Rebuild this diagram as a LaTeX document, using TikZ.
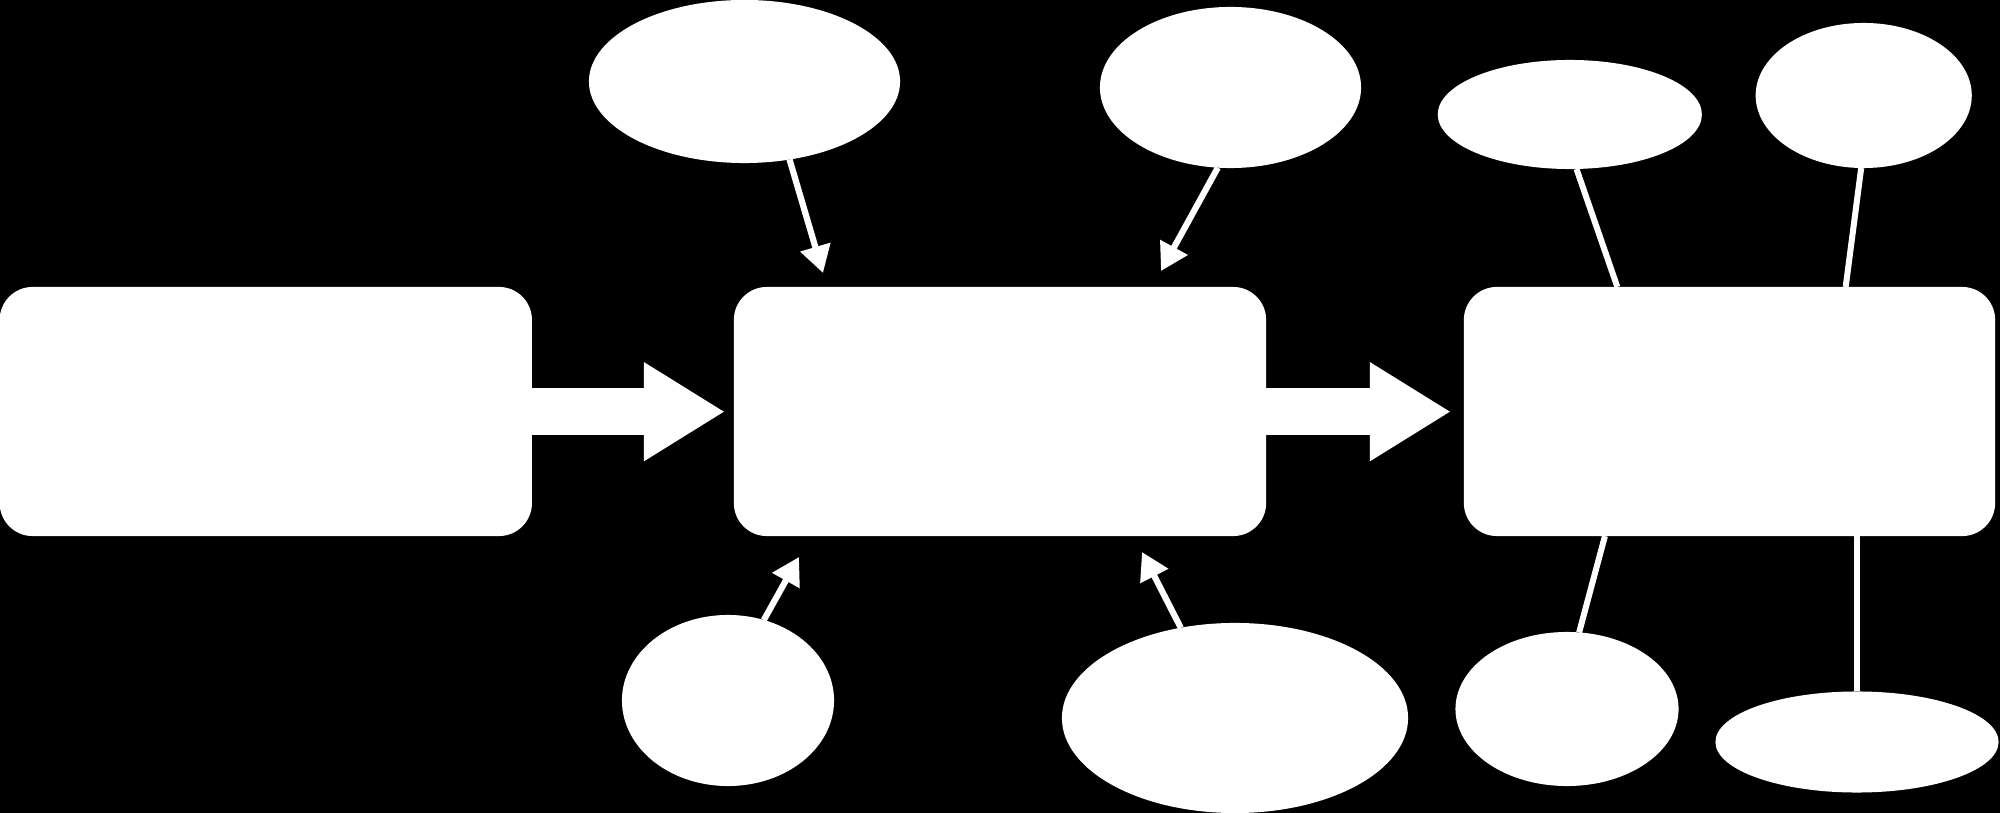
\documentclass[tikz,border=0pt]{standalone}
\usetikzlibrary{shapes.geometric,arrows.meta}
\begin{document}
\begin{tikzpicture}[x=0.01cm,y=-0.01cm,
  boxnode/.style={rectangle,rounded corners=0.33cm,fill=white,draw=none,inner sep=0pt,outer sep=0pt,minimum height=2.49cm},
  ellnode/.style={ellipse,fill=white,draw=none,inner sep=0pt,outer sep=0pt},
  bigarrow/.style={draw=white,line width=0.475cm,-{Triangle[width=0.93cm,length=0.81cm]}},
  smallarrow/.style={draw=white,line width=0.062cm,-{Triangle[width=0.3cm,length=0.27cm]}},
  plainline/.style={draw=white,line width=0.06cm}]
\useasboundingbox (0,0) rectangle (2000,813);
\fill[black] (0,0) rectangle (2000,813);
\node[boxnode,minimum width=5.32cm] (b1) at (265.8,411.5) {};
\node[boxnode,minimum width=5.32cm] (b2) at (1000,411.5) {};
\node[ellnode,minimum width=3.11cm,minimum height=1.63cm] (e1) at (744.5,81.5) {};
\node[ellnode,minimum width=2.61cm,minimum height=1.61cm] (e2) at (1230.5,87.5) {};
\node[ellnode,minimum width=2.64cm,minimum height=1.09cm] (e3) at (1569.8,114.5) {};
\node[ellnode,minimum width=2.16cm,minimum height=1.45cm] (e4) at (1863.7,95.5) {};
\node[ellnode,minimum width=2.12cm,minimum height=1.71cm] (e5) at (728,700.5) {};
\node[ellnode,minimum width=3.46cm,minimum height=1.90cm] (e6) at (1235,718) {};
\node[ellnode,minimum width=2.23cm,minimum height=1.54cm] (e7) at (1567,709) {};
\node[ellnode,minimum width=2.83cm,minimum height=1.01cm] (e8) at (1857,742) {};
\coordinate (t1) at (823,273);
\coordinate (t2) at (1161,271);
\coordinate (t3) at (799,557);
\coordinate (t4) at (1142,552);
\coordinate (a1) at (725,411.7);
\coordinate (a2) at (1451,411.7);
\draw[smallarrow] (e1.300.6) -- (t1);
\draw[smallarrow] (e2.261.8) -- (t2);
\draw[smallarrow] (e5.66.8) -- (t3);
\draw[smallarrow] (e6.121.6) -- (t4);
\draw[bigarrow] (b1.east |- a1) -- (a1);
\draw[bigarrow] (b2.east |- a2) -- (a2);
\node[boxnode,minimum width=5.31cm] (b3) at (1729.5,411.5) {};
\draw[plainline] (e3.277.5) -- (b3.132.6);
\draw[plainline] (e4.268.7) -- (b3.47.6);
\draw[plainline] (b3.225.7) -- (e7.81.3);
\draw[plainline] (b3.south -| e8.north) -- (e8.north);
\end{tikzpicture}
\end{document}
